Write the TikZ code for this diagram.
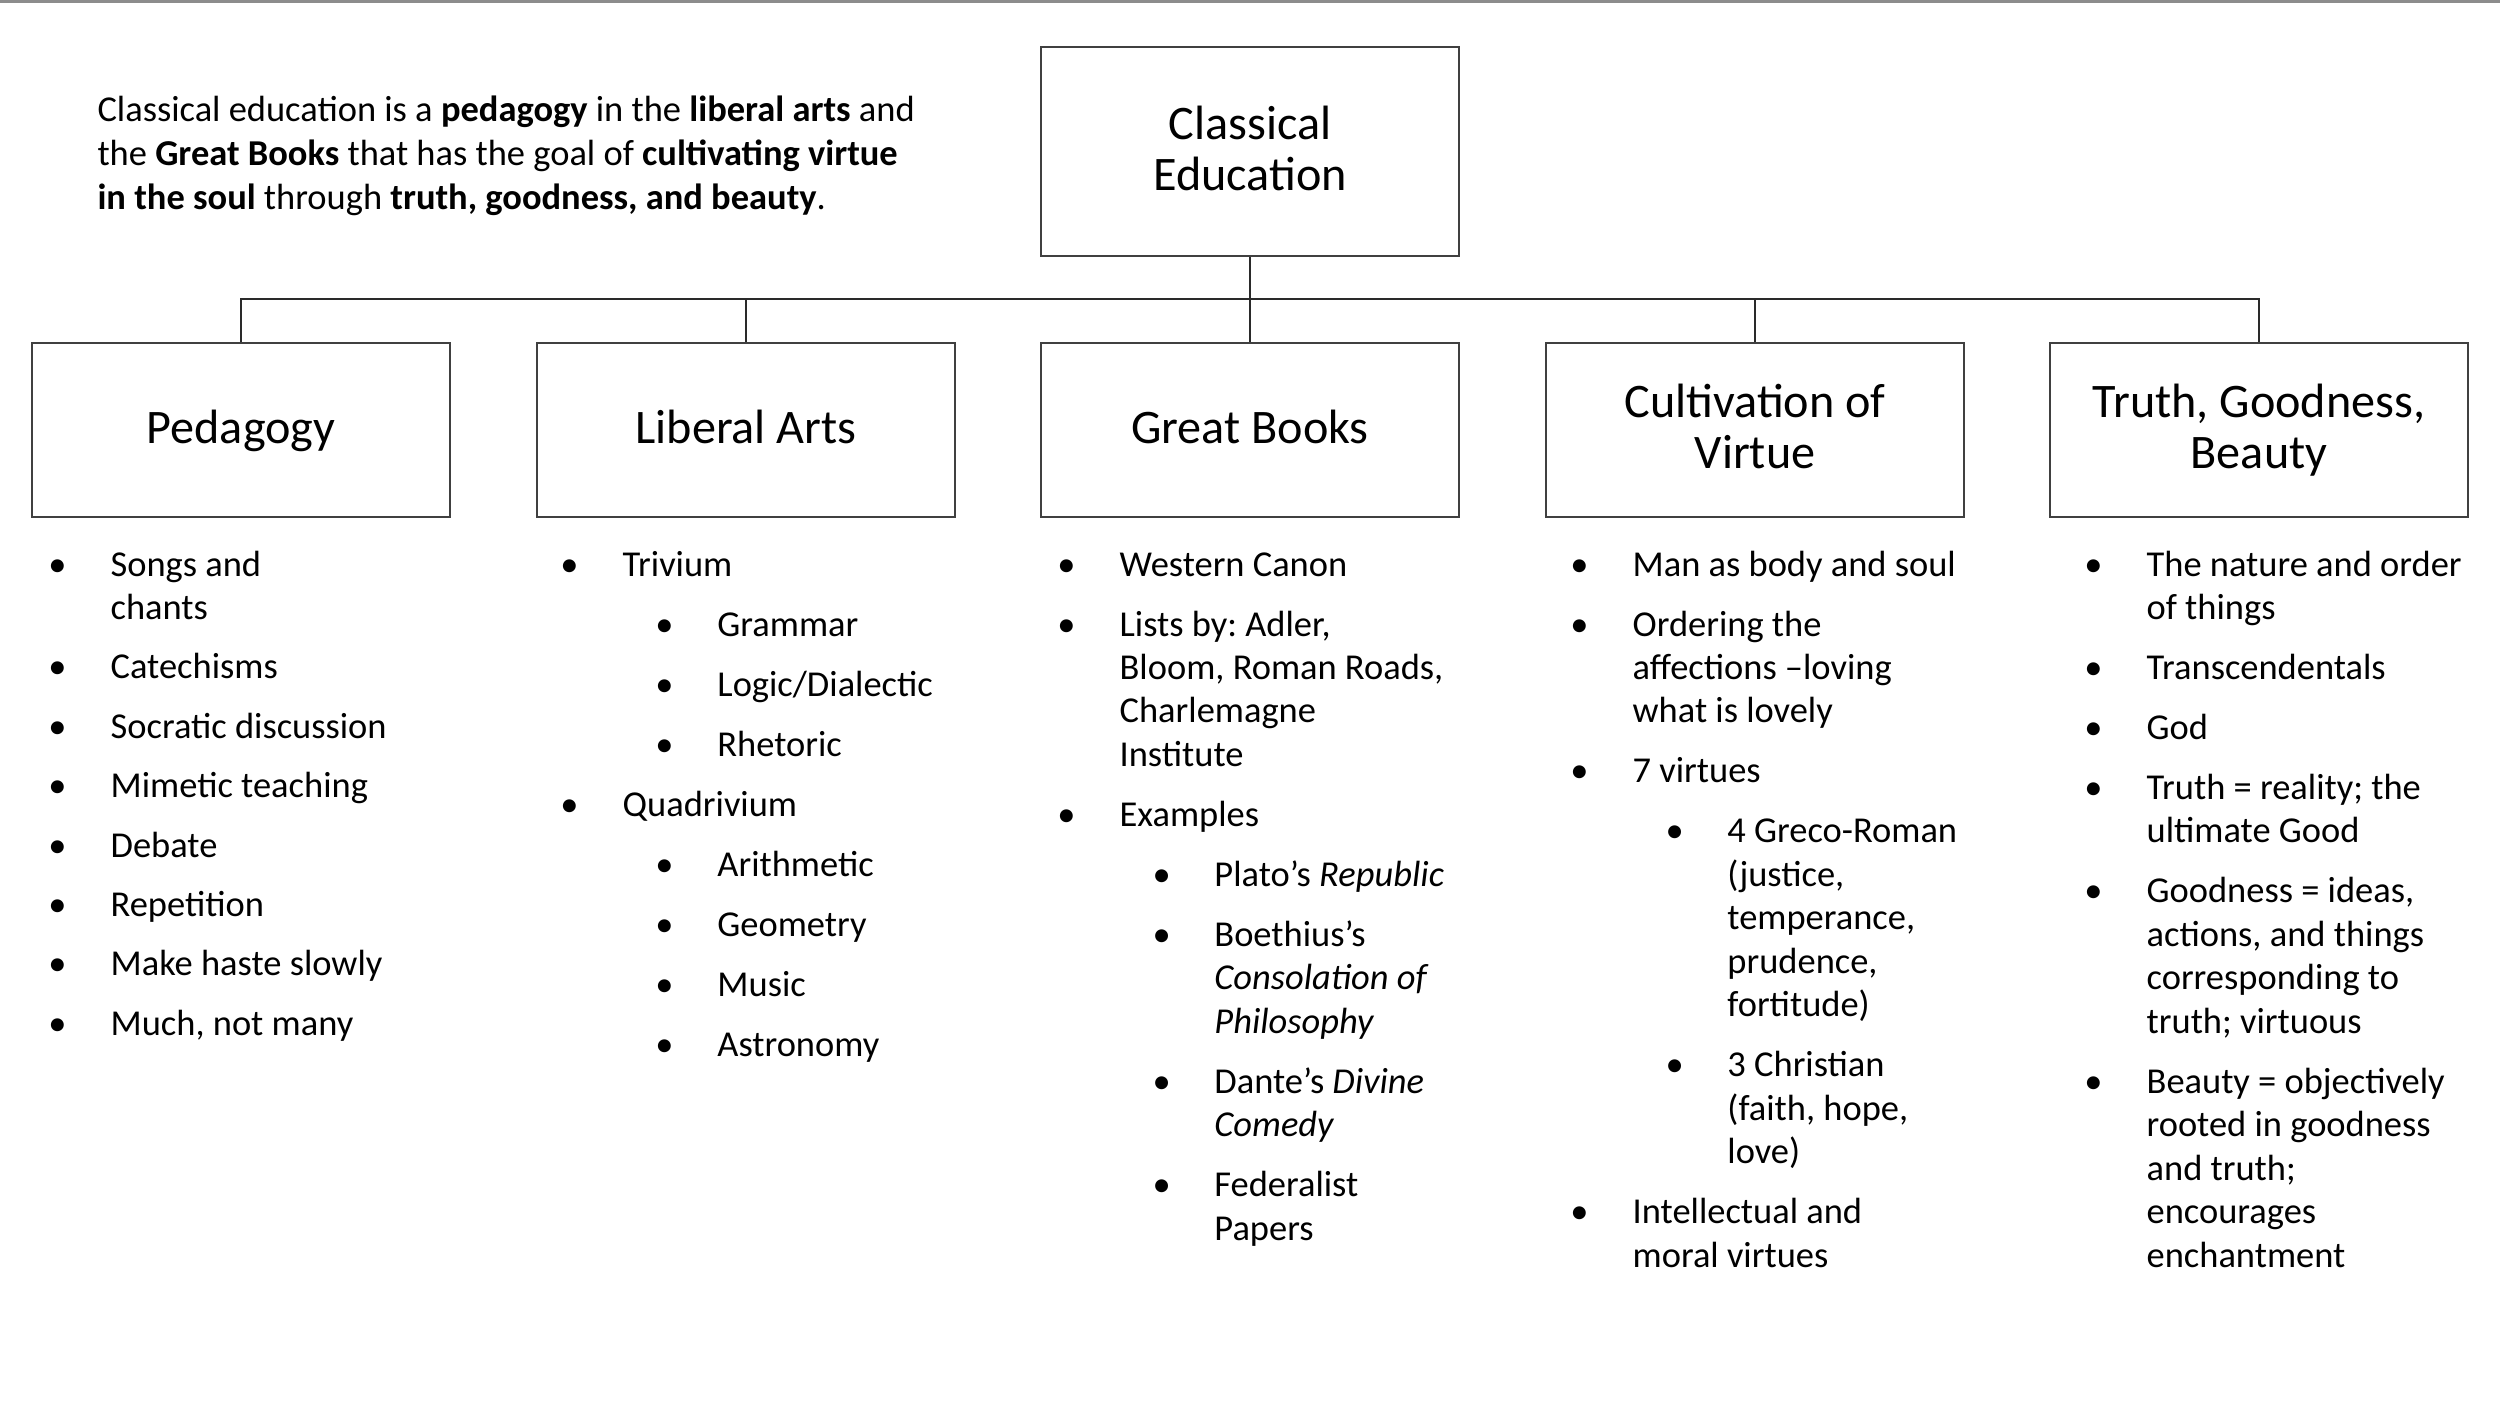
\documentclass[tikz,border=0pt]{standalone}
\usepackage{fontspec}
\setmainfont{Carlito}
\frenchspacing
\definecolor{boxgray}{HTML}{404040}
\definecolor{linegray}{HTML}{2A2A2A}
\definecolor{topgray}{HTML}{8C8C8C}
\newlength\indA \setlength\indA{20.4pt}
\newlength\subB \setlength\subB{36.5pt}
\newlength\subT \setlength\subT{56.8pt}
\newcommand\bstrut{\rule[-4.65pt]{0pt}{19.5pt}}
\newcommand\bitem[1]{\par\hangindent=\indA\hangafter=1\noindent\makebox[\indA][l]{\makebox[0pt][c]{\textbullet}}#1}
\newcommand\bsub[1]{\par\hangindent=\subT\hangafter=1\noindent\makebox[\subT][l]{\hspace*{\subB}\makebox[0pt][c]{\textbullet}}#1}
\newenvironment{blist}[1][6.34pt]{\begin{minipage}[t]{165pt}\fontsize{14pt}{16.7pt}\selectfont\frenchspacing\setlength\parskip{#1}\setlength\parfillskip{0pt plus 1fil}}{\par\end{minipage}}
\tikzset{
  box/.style={draw=boxgray, line width=0.6pt, minimum width=160.5pt, minimum height=66.8pt,
    inner sep=0pt, align=center, font=\fontsize{18.5pt}{19.5pt}\selectfont},
  rootbox/.style={box, minimum height=80.3pt},
  conn/.style={draw=linegray, line width=0.42pt},
  listnode/.style={anchor=base west, inner sep=0pt}
}
\begin{document}
\begin{tikzpicture}[x=0.384pt, y=-0.384pt]
\useasboundingbox (0,0) rectangle (2500,1409);
\fill[topgray] (0,0) rectangle (2500,3);

% intro text
\node[listnode] (intro) at (97,121) {\begin{minipage}[t]{330pt}\fontsize{14pt}{17pt}\selectfont\raggedright
Classical education is a \textbf{pedagogy} in the \textbf{liberal arts} and\\
the \textbf{Great Books} that has the goal of \textbf{cultivating virtue}\\
\textbf{in the soul} through \textbf{truth, goodness, and beauty}.\end{minipage}};

% boxes
\node[rootbox] (root) at (1250,151.5) {\bstrut Classical\\\bstrut Education};
\node[box] (c1) at (241,430) {\bstrut Pedagogy};
\node[box] (c2) at (746,430) {\bstrut Liberal Arts};
\node[box] (c3) at (1250,430) {\bstrut Great Books};
\node[box] (c4) at (1755,430) {\bstrut Cultivation of\\\bstrut Virtue};
\node[box] (c5) at (2259,430) {\bstrut Truth, Goodness,\\\bstrut Beauty};

% connectors
\coordinate (bar) at (1250,299);
\draw[conn] (root.south) -- (c3.north);
\draw[conn] (c1.north) |- (c5.north |- bar) -- (c5.north);
\draw[conn] (c2.north) -- (c2.north |- bar);
\draw[conn] (c4.north) -- (c4.north |- bar);

% lists
\node[listnode] (l1) at (57,576) {\begin{blist}[6.1pt]
\bitem{Songs and\\chants}
\bitem{Catechisms}
\bitem{Socratic discussion}
\bitem{Mimetic teaching}
\bitem{Debate}
\bitem{Repetition}
\bitem{Make haste slowly}
\bitem{Much, not many}
\end{blist}};

\node[listnode] (l2) at (569,576) {\begin{blist}
\bitem{Trivium}
\bsub{Grammar}
\bsub{Logic/Dialectic}
\bsub{Rhetoric}
\bitem{Quadrivium}
\bsub{Arithmetic}
\bsub{Geometry}
\bsub{Music}
\bsub{Astronomy}
\end{blist}};

\node[listnode] (l3) at (1066,576) {\begin{blist}
\bitem{Western Canon}
\bitem{Lists by: Adler,\\Bloom, Roman Roads,\\Charlemagne\\Institute}
\bitem{Examples}
\bsub{Plato’s \textit{Republic}}
\bsub{Boethius’s\\\textit{Consolation of}\\\textit{Philosophy}}
\bsub{Dante’s \textit{Divine}\\\textit{Comedy}}
\bsub{Federalist\\Papers}
\end{blist}};

\node[listnode] (l4) at (1579,576) {\begin{blist}
\bitem{Man as body and soul}
\bitem{Ordering the\\affections –loving\\what is lovely}
\bitem{7 virtues}
\bsub{4 Greco-Roman\\(justice,\\temperance,\\prudence,\\fortitude)}
\bsub{3 Christian\\(faith, hope,\\love)}
\bitem{Intellectual and\\moral virtues}
\end{blist}};

\node[listnode] (l5) at (2093,576) {\begin{blist}
\bitem{The nature and order\\of things}
\bitem{Transcendentals}
\bitem{God}
\bitem{Truth = reality; the\\ultimate Good}
\bitem{Goodness = ideas,\\actions, and things\\corresponding to\\truth; virtuous}
\bitem{Beauty = objectively\\rooted in goodness\\and truth;\\encourages\\enchantment}
\end{blist}};
\end{tikzpicture}
\end{document}
